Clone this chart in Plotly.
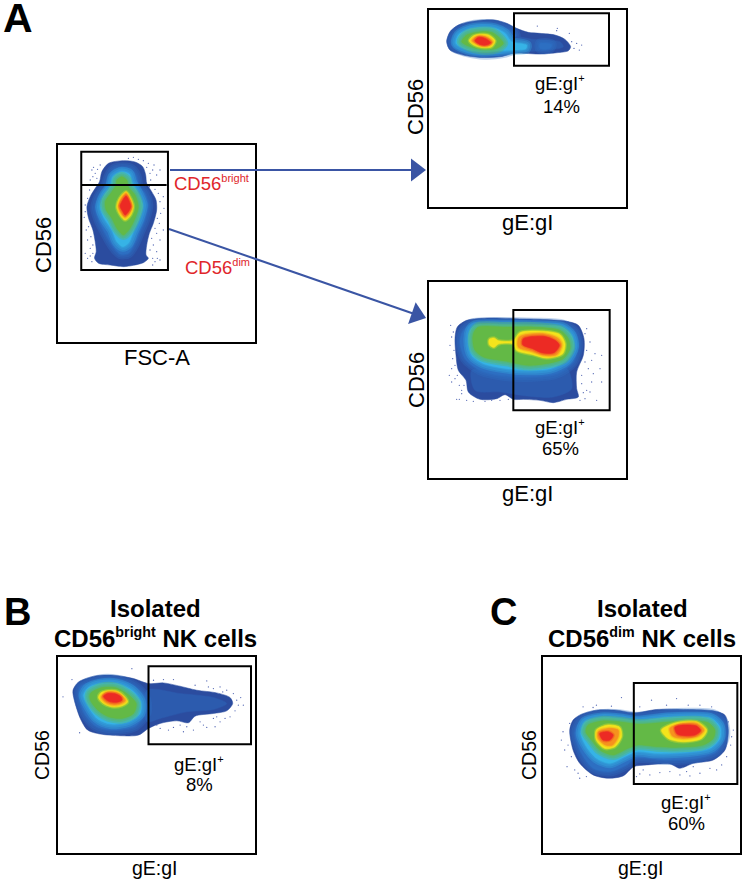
import plotly.graph_objects as go

W, H = 744, 881

# frames of the five plots in page pixels, and the scale each plot is read on
panels = ["left", "top", "mid", "b", "c"]
frames_px = [(58, 145, 255, 342), (429, 10, 626, 207), (429, 282, 626, 478), (58, 657, 255, 853), (543, 657, 740, 853)]
x_ranges = [[173, 766], [87, 678], [87, 678], [173, 765], [190, 780]]
y_ranges = [[636, 45], [620, 30], [608, 20], [790, 200], [790, 200]]

# gates: x0, y0, x1, y1
gates = [(243, 65, 504, 420), (342, 40, 627, 197), (340, 104, 629, 405), (445, 228, 753, 463), (462, 278, 772, 582)]

# index 7 is the slightly lifted blue of the low density tails
level_colors = ["#2b4c9f", "#2d6fc2", "#36b3e6", "#63b946", "#f4e41c", "#f6921e", "#ec2a24", "#2c5bae"]

# density contours, one list per level index
left_levels = [
    (0, [(370,92),(405,96),(428,110),(437,135),(440,160),(455,185),(468,210),(470,240),(460,280),(448,310),(440,345),(438,375),(445,385),(430,398),(400,406),(370,410),(330,405),(295,400),(283,385),(288,365),(285,335),(278,300),(265,265),(260,230),(270,200),(285,175),(298,155),(305,125),(325,100),(370,92)]),
    (1, [(368,112),(395,118),(410,140),(415,165),(435,190),(445,225),(435,270),(420,305),(405,340),(385,370),(360,372),(335,345),(315,310),(295,270),(285,235),(295,200),(315,170),(325,140),(340,118),(368,112)]),
    (2, [(365,125),(388,132),(395,155),(412,185),(428,225),(418,265),(400,305),(385,340),(368,350),(350,335),(335,300),(312,265),(300,230),(312,195),(330,170),(338,140),(365,125)]),
    (3, [(365,140),(380,150),(385,170),(405,195),(415,230),(405,265),(390,295),(370,315),(350,295),(335,265),(318,240),(315,215),(335,185),(348,165),(350,150),(365,140)]),
    (4, [(378,185),(392,205),(400,230),(392,255),(375,270),(360,255),(350,230),(358,205),(378,185)]),
    (5, [(378,190),(390,210),(396,230),(388,250),(375,262),(362,248),(355,230),(362,208),(378,190)]),
    (6, [(378,198),(388,215),(392,230),(385,245),(375,255),(367,243),(360,228),(367,212),(378,198)]),
]
top_levels = [
    (0, [(250,60),(285,60),(320,70),(350,85),(385,97),(420,100),(465,105),(495,118),(512,140),(505,152),(470,158),(420,162),(375,160),(340,160),(300,170),(240,172),(190,165),(150,150),(140,125),(150,95),(175,75),(210,65),(250,60)]),
    (1, [(245,72),(285,75),(320,85),(345,100),(345,145),(305,160),(240,163),(195,155),(160,140),(155,120),(170,95),(205,78),(245,72)]),
    (7, [(345,112),(400,118),(480,125),(490,140),(440,150),(380,155),(345,152),(345,112)]),
    (2, [(245,82),(285,85),(315,100),(335,125),(380,135),(378,146),(340,150),(300,152),(245,155),(200,148),(168,130),(175,105),(205,88),(245,82)]),
    (1, [(420,130),(455,133),(450,145),(420,145),(420,130)]),
    (3, [(240,95),(275,97),(300,115),(310,130),(290,145),(245,148),(205,138),(185,125),(200,105),(240,95)]),
    (4, [(238,103),(265,105),(285,122),(275,140),(245,142),(222,135),(208,122),(220,108),(238,103)]),
    (5, [(238,108),(262,112),(278,125),(268,136),(245,137),(228,130),(216,122),(225,112),(238,108)]),
    (6, [(235,112),(255,115),(272,128),(258,135),(240,133),(225,122),(235,112)]),
]
mid_levels = [
    (0, [(200,135),(270,128),(340,130),(420,132),(500,138),(535,150),(552,190),(550,240),(530,290),(530,340),(535,365),(500,372),(460,382),(420,375),(370,372),(340,372),(315,358),(290,370),(240,372),(205,350),(198,315),(175,285),(168,240),(165,190),(172,155),(200,135)]),
    (7, [(215,285),(300,295),(400,300),(500,280),(515,340),(460,365),(380,362),(300,350),(225,345),(215,285)]),
    (1, [(215,145),(300,140),(400,142),(490,148),(525,170),(535,210),(520,260),(470,295),(380,305),(300,300),(240,285),(195,250),(180,200),(190,165),(215,145)]),
    (2, [(225,150),(300,148),(400,150),(485,155),(515,180),(522,215),(500,255),(450,280),(380,285),(320,280),(250,265),(215,240),(205,195),(210,165),(225,150)]),
    (3, [(235,155),(320,155),(400,155),(480,165),(505,190),(510,220),(490,250),(440,265),(380,270),(320,258),(250,245),(225,225),(218,190),(222,170),(235,155)]),
    (4, [(268,192),(282,188),(295,196),(340,196),(360,172),(430,168),(480,178),(495,205),(488,235),(440,248),(400,238),(350,225),(340,206),(295,206),(282,216),(268,208),(268,192)]),
    (5, [(358,185),(430,175),(475,190),(485,210),(470,238),(430,240),(395,228),(355,215),(358,185)]),
    (6, [(370,190),(430,183),(465,195),(478,210),(462,232),(425,232),(398,220),(368,208),(370,190)]),
]
b_levels = [
    (0, [(285,257),(340,255),(400,265),(445,280),(490,278),(540,288),(590,300),(650,308),(690,322),(698,340),(680,362),(640,370),(585,378),(565,398),(530,392),(480,400),(445,415),(415,435),(360,437),(300,432),(262,420),(240,385),(222,330),(218,300),(235,275),(285,257)]),
    (7, [(440,300),(540,310),(640,322),(680,340),(640,358),(560,365),(480,385),(440,395),(440,300)]),
    (1, [(295,268),(350,268),(400,285),(435,320),(440,365),(405,408),(340,420),(290,410),(255,375),(235,320),(240,290),(295,268)]),
    (2, [(300,280),(350,280),(395,300),(422,335),(420,370),(385,395),(330,402),(290,385),(262,345),(250,315),(265,292),(300,280)]),
    (3, [(305,292),(345,292),(380,310),(408,340),(400,370),(365,385),(325,380),(295,362),(270,330),(270,310),(305,292)]),
    (4, [(318,302),(350,303),(372,318),(382,335),(365,347),(335,350),(310,340),(295,322),(302,308),(318,302)]),
    (5, [(320,306),(350,307),(368,320),(375,332),(358,342),(335,344),(314,335),(303,320),(320,306)]),
    (6, [(322,310),(345,311),(362,320),(365,330),(350,336),(330,335),(315,326),(310,318),(322,310)]),
]
c_levels = [
    (0, [(300,375),(350,360),(410,360),(465,368),(530,358),(620,358),(700,362),(735,375),(745,420),(735,480),(700,510),(640,520),(600,535),(570,522),(500,525),(462,530),(430,558),(385,565),(340,555),(300,520),(280,480),(270,420),(280,390),(300,375)]),
    (1, [(310,385),(360,372),(420,372),(470,380),(560,370),(640,368),(700,372),(730,395),(735,440),(710,485),(650,505),(560,510),(470,505),(440,525),(390,545),(340,535),(305,490),(285,430),(295,400),(310,385)]),
    (2, [(315,395),(365,382),(420,385),(470,392),(560,382),(640,380),(695,385),(720,410),(720,445),(690,475),(620,487),(530,490),(470,485),(435,500),(390,520),(350,505),(320,470),(303,430),(315,395)]),
    (3, [(325,405),(370,392),(420,395),(480,402),(570,395),(640,392),(685,398),(705,420),(700,445),(670,465),(600,472),(530,470),(475,465),(445,475),(400,495),(360,480),(335,450),(318,425),(325,405)]),
    (4, [(350,420),(385,405),(420,412),(425,440),(405,470),(375,475),(350,450),(350,420)]),
    (4, [(545,420),(590,398),(650,395),(680,420),(665,445),(610,455),(565,445),(545,420)]),
    (5, [(355,425),(385,415),(415,420),(415,440),(398,465),(378,465),(355,445),(355,425)]),
    (5, [(570,415),(600,402),(650,400),(672,420),(655,438),(610,445),(578,438),(570,415)]),
    (6, [(360,430),(385,425),(400,435),(390,450),(370,450),(360,430)]),
    (6, [(585,412),(610,405),(650,408),(662,422),(645,435),(615,437),(592,432),(585,412)]),
]
all_levels = [left_levels, top_levels, mid_levels, b_levels, c_levels]

# stray events outside the dense area
left_dots = [(275,120),(285,130),(292,118),(270,150),(262,205),(255,225),(252,262),(258,300),(262,330),(270,355),(262,385),(275,395),(400,82),(430,92),(445,100),(458,120),(470,135),(480,120),(452,150),(475,190),(490,200),(482,250),(478,280),(470,310),(480,330),(460,345),(470,365),(458,385),(480,390),(490,300),(492,235),
             (280,112),(300,105),(278,140),(290,145),(268,180),(278,165),(255,245),(265,290),(272,320),(278,345),(255,370),(270,378),(278,370),(385,85),(415,88),(440,112),(450,130),(462,105),(448,170),(465,178),(480,215),(472,265),(465,295),(455,325),(450,360),(465,395),(472,385),(458,405)]
top_dots = [(412,78),(472,85),(508,100),(530,130),(545,135),(538,150),(522,145),(470,92),(515,125)]
mid_dots = [(152,150),(160,170),(150,210),(158,250),(148,300),(165,310),(178,330),(170,372),(185,345),(200,375),(255,378),(300,375),(560,160),(570,200),(585,235),(605,240),(565,280),(575,320),(605,320),(560,345),(590,375),(545,300),(550,352),(540,375),(155,280),
            (155,185),(162,225),(165,270),(172,300),(155,320),(185,355),(192,330),(178,372),(220,378),(275,375),(325,372),(555,175),(560,225),(575,255),(555,260),(545,325),(570,350),(555,370),(600,280),(580,295)]
b_dots = [(188,320),(215,268),(395,235),(238,428),(460,270),(520,268),(620,272),(660,290),(700,310),(722,322),(715,345),(705,362),(640,385),(600,395),(560,410),(520,412),(480,415),(620,412),(660,395),(690,380),(580,420),(470,405),(625,290),(680,300),
          (490,268),(585,285),(640,295),(668,305),(710,330),(730,345),(650,380),(610,405),(540,405),(505,420),(645,410),(675,385),(550,425)]
c_dots = [(245,450),(255,480),(262,530),(295,550),(310,350),(425,322),(515,330),(590,325),(660,345),(745,395),(760,420),(752,465),(740,500),(710,540),(660,550),(600,555),(540,548),(490,540),(470,560),(300,565),(270,400),(350,345),(640,530),(620,545),
          (250,425),(265,465),(275,500),(285,540),(320,560),(340,352),(395,348),(480,350),(560,345),(625,345),(695,350),(755,440),(725,525),(690,535),(630,558),(570,545),(510,555),(480,552)]
all_dots = [left_dots, top_dots, mid_dots, b_dots, c_dots]

# horizontal split of the left gate
split_x = [243, 500]
split_y = [165, 165]

# arrows, in page pixels: line end sits at the centre of the head
arrow_one_x = [170, 416]
arrow_one_y = [170, 170]
arrow_two_x = [169, 416.6]
arrow_two_y = [229, 314.7]


def sup(text):
    return f"<sup><span style='font-size:85%'>{text}</span></sup>"


# text, in page pixels: label, x, y, size, colour, bold, angle
labels = [
    ("A", 18, 18, 41, "black", True, 0),
    ("B", 17, 612, 38, "black", True, 0),
    ("C", 503, 612, 38, "black", True, 0),
    ("Isolated", 155, 608, 24, "black", True, 0),
    ("CD56" + sup("bright") + " NK cells", 155, 638, 24, "black", True, 0),
    ("Isolated", 642, 608, 24, "black", True, 0),
    ("CD56" + sup("dim") + " NK cells", 642, 638, 24, "black", True, 0),
    ("CD56", 43, 245, 22, "black", False, -90),
    ("FSC-A", 157, 357, 22, "black", False, 0),
    ("CD56" + sup("bright"), 211, 183, 18.5, "#e0262b", False, 0),
    ("CD56" + sup("dim"), 217, 267, 18.5, "#e0262b", False, 0),
    ("CD56", 415, 107, 22, "black", False, -90),
    ("gE:gI", 527, 222, 22, "black", False, 0),
    ("gE:gI" + sup("+"), 560, 83, 18.5, "black", False, 0),
    ("14%", 561, 106, 18.5, "black", False, 0),
    ("CD56", 416, 380, 22, "black", False, -90),
    ("gE:gI", 527, 493, 22, "black", False, 0),
    ("gE:gI" + sup("+"), 560, 427, 18.5, "black", False, 0),
    ("65%", 560, 448, 18.5, "black", False, 0),
    ("CD56", 42, 755, 19.5, "black", False, -90),
    ("gE:gI", 155, 868, 19.5, "black", False, 0),
    ("gE:gI" + sup("+"), 199, 764, 18.5, "black", False, 0),
    ("8%", 199, 784, 18.5, "black", False, 0),
    ("CD56", 529, 755, 19.5, "black", False, -90),
    ("gE:gI", 641, 868, 19.5, "black", False, 0),
    ("gE:gI" + sup("+"), 686, 802, 18.5, "black", False, 0),
    ("60%", 686, 823, 18.5, "black", False, 0),
]


def rgba(color, alpha):
    r, g, b = int(color[1:3], 16), int(color[3:5], 16), int(color[5:7], 16)
    return f"rgba({r},{g},{b},{alpha})"


fig = go.Figure()

for i, name in enumerate(panels):
    n = i + 1
    x0, y0, x1, y1 = frames_px[i]
    fig.update_layout({
        f"xaxis{n}": dict(domain=[x0 / W, x1 / W], range=x_ranges[i], anchor=f"y{n}", showgrid=False,
                          zeroline=False, showticklabels=False, ticks="", showline=True, mirror=True,
                          linecolor="black", linewidth=2),
        f"yaxis{n}": dict(domain=[1 - y1 / H, 1 - y0 / H], range=y_ranges[i], anchor=f"x{n}", showgrid=False,
                          zeroline=False, showticklabels=False, ticks="", showline=True, mirror=True,
                          linecolor="black", linewidth=2),
    })

    # dots first so the density covers them
    fig.add_trace(go.Scatter(x=[p[0] for p in all_dots[i]], y=[p[1] for p in all_dots[i]], mode="markers",
                             marker=dict(color="#5468b4", size=1.3), xaxis=f"x{n}", yaxis=f"y{n}"))
    for level, pts in all_levels[i]:
        xs = [p[0] for p in pts]
        ys = [p[1] for p in pts]
        color = level_colors[level]
        # translucent strokes fade each band into the one below it, less so for the hot core
        if level in (1, 2, 3):
            widths = (10, 6.5, 3)
        elif level in (4, 5, 6):
            widths = (3.5, 1.5)
        else:
            widths = ()
        for width in widths:
            fig.add_trace(go.Scatter(x=xs, y=ys, mode="lines", xaxis=f"x{n}", yaxis=f"y{n}",
                                     line=dict(color=rgba(color, 0.3), width=width, shape="spline", smoothing=0.8)))
        fig.add_trace(go.Scatter(x=xs, y=ys, mode="lines", fill="toself", fillcolor=color, xaxis=f"x{n}", yaxis=f"y{n}",
                                 line=dict(color=color, width=0.5, shape="spline", smoothing=0.8)))

    gx0, gy0, gx1, gy1 = gates[i]
    fig.add_shape(type="rect", x0=gx0, y0=gy0, x1=gx1, y1=gy1, xref=f"x{n}", yref=f"y{n}",
                  line=dict(color="black", width=2))

fig.add_trace(go.Scatter(x=split_x, y=split_y, mode="lines", line=dict(color="black", width=2), xaxis="x1", yaxis="y1"))

# page-wide axes for arrows and text
fig.update_layout(
    xaxis6=dict(domain=[0, 1], range=[0, W], anchor="y6", visible=False),
    yaxis6=dict(domain=[0, 1], range=[H, 0], anchor="x6", visible=False),
)
for ax, ay in [(arrow_one_x, arrow_one_y), (arrow_two_x, arrow_two_y)]:
    fig.add_trace(go.Scatter(x=ax, y=ay, mode="lines+markers", xaxis="x6", yaxis="y6",
                             line=dict(color="#3a55a4", width=2),
                             marker=dict(color="#3a55a4", opacity=1, symbol="triangle-up", angleref="previous",
                                         size=[0, 20], line=dict(width=0))))

for text, x, y, size, color, bold, angle in labels:
    fig.add_annotation(x=x, y=y, xref="x6", yref="y6", text=f"<b>{text}</b>" if bold else text, showarrow=False,
                       textangle=angle, font=dict(family="Liberation Sans", size=size, color=color))

fig.update_layout(
    showlegend=False,
    hovermode=False,
    plot_bgcolor="rgba(0,0,0,0)",
    paper_bgcolor="white",
    margin=dict(l=0, r=0, t=0, b=0),
    width=W,
    height=H,
)
# the browser's default body margin would push the figure 8px in
fig.write_html("out.html", config={"displayModeBar": False},
               post_script="document.body.style.margin='0';document.body.style.overflow='hidden';")
